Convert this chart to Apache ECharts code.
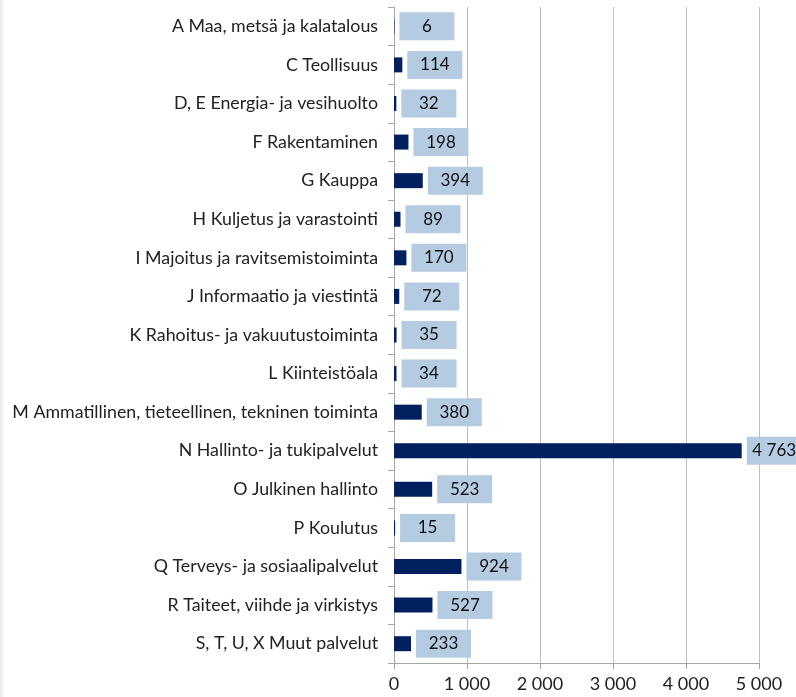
<!DOCTYPE html>
<html>
<head>
<meta charset="utf-8">
<script src="https://cdn.jsdelivr.net/npm/echarts@6/dist/echarts.min.js"></script>
<style>
  html, body { margin: 0; padding: 0; background: #fff; }
  #chart { width: 796px; height: 697px; border-left: 3px solid #eeeeee; box-sizing: border-box; }
</style>
</head>
<body>
<div id="chart"></div>
<script>
  var categories = [
    'A Maa, metsä ja kalatalous',
    'C Teollisuus',
    'D, E Energia- ja vesihuolto',
    'F Rakentaminen',
    'G Kauppa',
    'H Kuljetus ja varastointi',
    'I Majoitus ja ravitsemistoiminta',
    'J Informaatio ja viestintä',
    'K Rahoitus- ja vakuutustoiminta',
    'L Kiinteistöala',
    'M Ammatillinen, tieteellinen, tekninen toiminta',
    'N Hallinto- ja tukipalvelut',
    'O Julkinen hallinto',
    'P Koulutus',
    'Q Terveys- ja sosiaalipalvelut',
    'R Taiteet, viihde ja virkistys',
    'S, T, U, X Muut palvelut'
  ]
  var values = [6, 114, 32, 198, 394, 89, 170, 72, 35, 34, 380, 4763, 523, 15, 924, 527, 233]

  // suomalainen tuhaterotin: välilyönti
  function fmt(v) {
    return String(v).replace(/\B(?=(\d{3})+(?!\d))/g, ' ')
  }

  var chart = echarts.init(document.getElementById('chart'))
  chart.setOption({
    animation: false,
    textStyle: { fontFamily: 'Lato' },
    grid: { left: 391, right: 37, top: 7, bottom: 34, containLabel: false },
    xAxis: {
      type: 'value',
      min: 0,
      max: 5000,
      interval: 1000,
      axisLine: { show: true, lineStyle: { color: '#a6a6a6' } },
      axisTick: { show: true, length: 6, lineStyle: { color: '#a6a6a6' } },
      axisLabel: { color: '#222', fontSize: 18, margin: 12, formatter: fmt },
      splitLine: { show: true, lineStyle: { color: '#c0c0c0' } }
    },
    yAxis: {
      type: 'category',
      data: categories,
      inverse: true,
      axisLine: { show: true, lineStyle: { color: '#a6a6a6' } },
      axisTick: { show: true, length: 6, lineStyle: { color: '#a6a6a6' } },
      axisLabel: { color: '#222', fontSize: 17.8, margin: 16 }
    },
    series: [{
      type: 'bar',
      data: values,
      barWidth: 15,
      itemStyle: { color: '#002060' },
      label: {
        show: true,
        position: 'right',
        distance: 5,
        formatter: function (p) { return '{b|' + fmt(p.value) + '}' },
        rich: {
          b: {
            width: 55,
            height: 28,
            align: 'center',
            backgroundColor: '#b4cbe2',
            color: '#111',
            fontSize: 17,
            fontFamily: 'Lato'
          }
        }
      }
    }]
  })
</script>
</body>
</html>
